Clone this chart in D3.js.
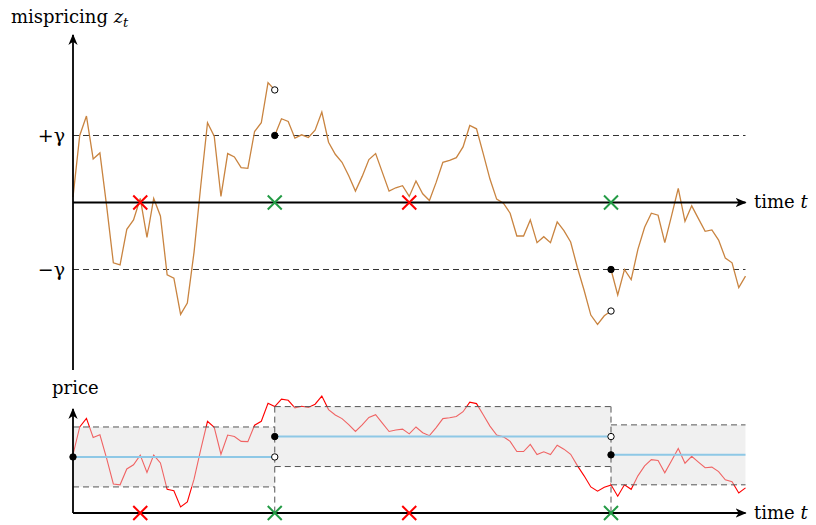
<!DOCTYPE html>
<html>
<head>
<meta charset="utf-8">
<script src="https://cdn.jsdelivr.net/npm/d3@7"></script>
<style>
  body { margin: 0; background: #fff; }
</style>
</head>
<body>
<svg width="816" height="525"></svg>
<script>
// mispricing z_t in units of gamma, one value per time step
const zSeg1 = [0.08, 1.0, 1.29, 0.65, 0.74, -0.05, -0.90, -0.93, -0.40, -0.26, 0.06, -0.52, 0.06, -0.20, -1.08, -1.13, -1.67, -1.50, -0.74, 0.25, 1.19, 0.99, 0.09, 0.73, 0.68, 0.52, 0.51, 1.06, 1.19, 1.79, 1.68];
const zSeg2 = [1.0, 1.25, 1.21, 0.96, 1.01, 0.97, 1.08, 1.35, 0.90, 0.72, 0.60, 0.40, 0.17, 0.39, 0.64, 0.73, 0.45, 0.17, 0.22, 0.25, 0.09, 0.32, 0.13, 0.03, 0.30, 0.60, 0.63, 0.67, 0.83, 1.15, 1.10, 0.73, 0.35, 0.05, -0.01, -0.16, -0.50, -0.50, -0.26, -0.60, -0.51, -0.60, -0.29, -0.42, -0.59, -0.97, -1.31, -1.68, -1.82, -1.69, -1.62];
const zSeg3 = [-1.0, -1.38, -1.0, -1.15, -0.70, -0.37, -0.16, -0.19, -0.60, -0.20, 0.21, -0.28, -0.05, -0.24, -0.43, -0.41, -0.56, -0.83, -0.90, -1.27, -1.10];
const segStart = [0, 30, 80];
const segEnd = [30, 80, 100];
const priceMeans = [0, 0.68, 0.07];
const openTrades = [10, 50];   // red crosses
const closeTrades = [30, 80];  // green crosses
const gammaTicks = [1, -1];
const gammaLabels = ['+γ', '−γ'];

const FONT = '"DejaVu Serif", serif';
const svg = d3.select('svg');
const segments = [zSeg1, zSeg2, zSeg3].map((zs, k) =>
  zs.map((z, i) => ({t: segStart[k] + i, z, price: priceMeans[k] + z})));

const x = d3.scaleLinear().domain([0, 100]).range([73, 745.5]);
const yZ = d3.scaleLinear().domain([-2.5, 2.5]).range([370, 35]);
const yP = d3.scaleLinear().domain([-1.87, 1.6]).range([513, 409]);

const defs = svg.append('defs');
defs.append('marker')
    .attr('id', 'arrow')
    .attr('viewBox', '0 0 10 10')
    .attr('refX', 9).attr('refY', 5)
    .attr('markerWidth', 11).attr('markerHeight', 11)
    .attr('markerUnits', 'userSpaceOnUse')
    .attr('orient', 'auto')
  .append('path')
    .attr('d', 'M0,0.8 L10,5 L0,9.2 L2.8,5 Z')
    .attr('fill', '#000');

const cross = (g, cx, cy, color) => {
  const s = 7;
  g.append('path')
    .attr('d', `M${cx - s},${cy - s}L${cx + s},${cy + s}M${cx - s},${cy + s}L${cx + s},${cy - s}`)
    .attr('stroke', color)
    .attr('stroke-width', 2)
    .attr('fill', 'none');
};

const dot = (g, cx, cy, open) => {
  g.append('circle')
    .attr('cx', cx).attr('cy', cy).attr('r', 3.2)
    .attr('fill', open ? '#fff' : '#000')
    .attr('stroke', '#000')
    .attr('stroke-width', 1);
};

// ---------- top panel: mispricing ----------
const topG = svg.append('g');

topG.selectAll('.gamma-line')
  .data(gammaTicks)
  .join('line')
    .attr('x1', x(0)).attr('x2', x(100))
    .attr('y1', d => yZ(d)).attr('y2', d => yZ(d))
    .attr('stroke', '#333')
    .attr('stroke-width', 1)
    .attr('stroke-dasharray', '6,4');

const zLine = d3.line().x(d => x(d.t)).y(d => yZ(d.z));
topG.selectAll('.z-path')
  .data(segments)
  .join('path')
    .attr('d', zLine)
    .attr('fill', 'none')
    .attr('stroke', '#c98440')
    .attr('stroke-width', 1.3);

const yAxisZ = d3.axisLeft(yZ)
  .tickValues(gammaTicks)
  .tickFormat((d, i) => gammaLabels[i])
  .tickSize(0)
  .tickPadding(8);
const yAxisZG = topG.append('g')
    .attr('transform', `translate(${x(0)},0)`)
    .call(yAxisZ)
    .attr('font-family', FONT)
    .attr('font-size', 19);
yAxisZG.select('.domain').remove();
yAxisZG.selectAll('text').attr('fill', '#000');

topG.append('line')
    .attr('x1', x(0)).attr('x2', x(0))
    .attr('y1', yZ(-2.5)).attr('y2', yZ(2.5))
    .attr('stroke', '#000').attr('stroke-width', 1.8)
    .attr('marker-end', 'url(#arrow)');
topG.append('line')
    .attr('x1', x(0)).attr('x2', x(100))
    .attr('y1', yZ(0)).attr('y2', yZ(0))
    .attr('stroke', '#000').attr('stroke-width', 1.8)
    .attr('marker-end', 'url(#arrow)');

openTrades.forEach(t => cross(topG, x(t), yZ(0), '#ff0000'));
closeTrades.forEach(t => cross(topG, x(t), yZ(0), '#239b45'));

segments.forEach((seg, k) => {
  if (k > 0) dot(topG, x(seg[0].t), yZ(seg[0].z), false);
  if (k < segments.length - 1) {
    const last = seg[seg.length - 1];
    dot(topG, x(last.t), yZ(last.z), true);
  }
});

const zTitle = topG.append('text')
    .attr('x', 11).attr('y', 23)
    .attr('font-family', FONT)
    .attr('font-size', 18);
zTitle.append('tspan').text('mispricing ');
zTitle.append('tspan').attr('font-style', 'italic').text('z');
zTitle.append('tspan').attr('font-style', 'italic').attr('font-size', 13).attr('dy', 4).text('t');

const tLabel = (g, yy) => {
  const txt = g.append('text')
      .attr('x', 754).attr('y', yy).attr('dy', '0.33em')
      .attr('font-family', FONT)
      .attr('font-size', 18);
  txt.append('tspan').text('time ');
  txt.append('tspan').attr('font-style', 'italic').text('t');
};
tLabel(topG, yZ(0));

// ---------- bottom panel: price ----------
const bottomG = svg.append('g');
const priceLine = d3.line().x(d => x(d.t)).y(d => yP(d.price));
bottomG.append('path')
    .attr('d', priceLine(segments.flat()))
    .attr('fill', 'none')
    .attr('stroke', '#ff0000')
    .attr('stroke-width', 1.1);

const bands = priceMeans.map((m, k) => ({m, t0: segStart[k], t1: segEnd[k]}));
bottomG.selectAll('.band')
  .data(bands)
  .join('rect')
    .attr('x', d => x(d.t0))
    .attr('width', d => x(d.t1) - x(d.t0))
    .attr('y', d => yP(d.m + 1))
    .attr('height', d => yP(d.m - 1) - yP(d.m + 1))
    .attr('fill', '#dedede')
    .attr('fill-opacity', 0.45);

bottomG.selectAll('.band-edge')
  .data(bands.flatMap(b => [{...b, v: b.m + 1}, {...b, v: b.m - 1}]))
  .join('line')
    .attr('x1', d => x(d.t0)).attr('x2', d => x(d.t1))
    .attr('y1', d => yP(d.v)).attr('y2', d => yP(d.v))
    .attr('stroke', '#555')
    .attr('stroke-width', 1)
    .attr('stroke-dasharray', '6,4');

bottomG.selectAll('.reset-line')
  .data(closeTrades)
  .join('line')
    .attr('x1', d => x(d)).attr('x2', d => x(d))
    .attr('y1', yP(priceMeans[1] + 1)).attr('y2', yP.range()[0])
    .attr('stroke', '#555')
    .attr('stroke-width', 1)
    .attr('stroke-dasharray', '6,4');

bottomG.selectAll('.mean-line')
  .data(bands)
  .join('line')
    .attr('x1', d => x(d.t0)).attr('x2', d => x(d.t1))
    .attr('y1', d => yP(d.m)).attr('y2', d => yP(d.m))
    .attr('stroke', '#8ec8e6')
    .attr('stroke-width', 2);

bottomG.append('line')
    .attr('x1', x(0)).attr('x2', x(0))
    .attr('y1', yP.range()[0]).attr('y2', yP.range()[1])
    .attr('stroke', '#000').attr('stroke-width', 1.8)
    .attr('marker-end', 'url(#arrow)');
bottomG.append('line')
    .attr('x1', x(0)).attr('x2', x(100))
    .attr('y1', yP.range()[0]).attr('y2', yP.range()[0])
    .attr('stroke', '#000').attr('stroke-width', 1.8)
    .attr('marker-end', 'url(#arrow)');

openTrades.forEach(t => cross(bottomG, x(t), yP.range()[0], '#ff0000'));
closeTrades.forEach(t => cross(bottomG, x(t), yP.range()[0], '#239b45'));

bands.forEach((b, k) => {
  dot(bottomG, x(b.t0), yP(b.m), false);
  if (k < bands.length - 1) dot(bottomG, x(b.t1), yP(b.m), true);
});

bottomG.append('text')
    .attr('x', 52).attr('y', 394)
    .attr('font-family', FONT)
    .attr('font-size', 18)
    .text('price');
tLabel(bottomG, yP.range()[0]);
</script>
</body>
</html>
